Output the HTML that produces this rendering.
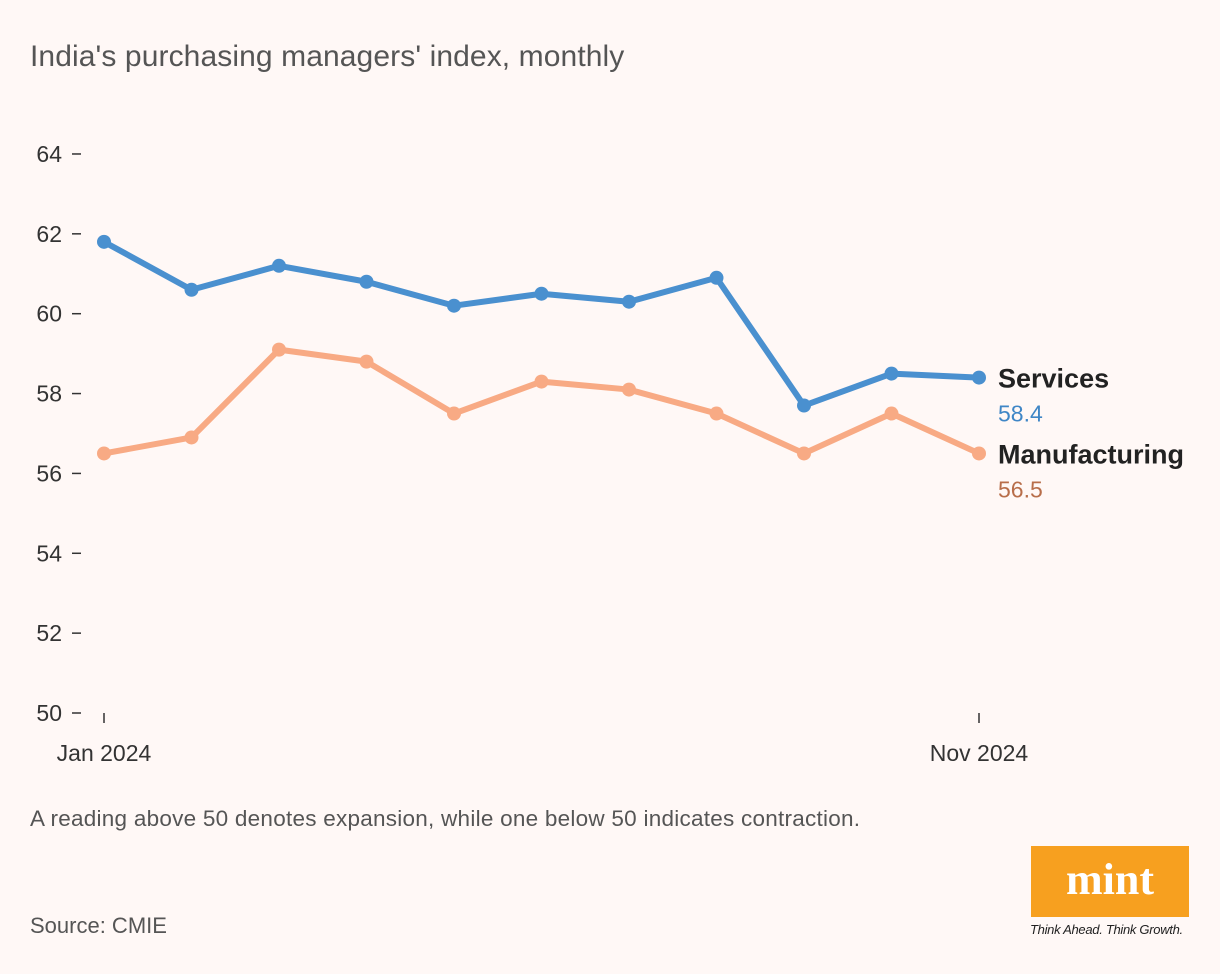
<!DOCTYPE html>
<html><head><meta charset="utf-8"><style>
html,body{margin:0;padding:0;background:#fff8f6;}
body{width:1220px;height:974px;position:relative;overflow:hidden;font-family:"Liberation Sans",sans-serif;}
.t{position:absolute;white-space:nowrap;}
</style></head><body>
<div class="t" style="left:30px;top:40px;font-size:30px;color:#555;letter-spacing:0.1px">India's purchasing managers' index, monthly</div>
<svg id="chart" width="1220" height="974" style="position:absolute;left:0;top:0"></svg>
<div class="t" style="left:30px;top:806px;font-size:22.5px;color:#555;letter-spacing:0.25px">A reading above 50 denotes expansion, while one below 50 indicates contraction.</div>
<div class="t" style="left:30px;top:913px;font-size:22px;color:#555">Source: CMIE</div>
<div style="position:absolute;left:1031px;top:846px;width:158px;height:71px;background:#f7a01f;color:#fff;font-family:'Liberation Serif',serif;font-weight:bold;font-size:44px;text-align:center;line-height:68px">mint</div>
<div class="t" style="left:1030px;top:922px;font-size:13px;font-style:italic;color:#222;letter-spacing:-0.3px">Think Ahead. Think Growth.</div>
<script>
const months=["Jan 2024","Feb 2024","Mar 2024","Apr 2024","May 2024","Jun 2024","Jul 2024","Aug 2024","Sep 2024","Oct 2024","Nov 2024"];
const services=[61.8,60.6,61.2,60.8,60.2,60.5,60.3,60.9,57.7,58.5,58.4];
const manufacturing=[56.5,56.9,59.1,58.8,57.5,58.3,58.1,57.5,56.5,57.5,56.5];
const yTicks=[50,52,54,56,58,60,62,64];
const ns="http://www.w3.org/2000/svg";
const svg=document.getElementById('chart');
const y=v=>713-(v-50)*39.93;
const x=i=>104+i*(875/(months.length-1));
function mk(t,a){const e=document.createElementNS(ns,t);for(const k in a)e.setAttribute(k,a[k]);svg.appendChild(e);return e;}
yTicks.forEach(v=>{
 const l=mk('line',{x1:72,x2:81,y1:y(v),y2:y(v),stroke:'#333','stroke-width':1.5});
 
 
 const t=mk('text',{x:62,y:y(v)+8,'text-anchor':'end','font-size':23,fill:'#333','font-family':'Liberation Sans, sans-serif'});
 t.textContent=v;
 
 
});
[0,months.length-1].forEach(i=>{
 const l=mk('line',{x1:x(i),x2:x(i),y1:713,y2:723,stroke:'#333','stroke-width':1.5});
 
 
 const t=mk('text',{x:x(i),y:761,'text-anchor':'middle','font-size':23,fill:'#333','font-family':'Liberation Sans, sans-serif'});
 t.textContent=months[i];
 
 
});
function series(vals,color,name,labColor){
 const p=mk('polyline',{points:vals.map((v,i)=>x(i)+','+y(v)).join(' '),fill:'none',stroke:color,'stroke-width':6,'stroke-linejoin':'round'});
 
 
 vals.forEach((v,i)=>{
  const c=mk('circle',{cx:x(i),cy:y(v),r:7,fill:color});
  
  
 });
 const last=vals[vals.length-1], ly=y(last);
 const t=mk('text',{x:998,y:ly+10,'font-size':27,'font-weight':'bold',fill:'#222','font-family':'Liberation Sans, sans-serif'});
 t.textContent=name==='services'?'Services':'Manufacturing';
 
 
 const t2=mk('text',{x:998,y:ly+44,'font-size':23,fill:labColor,'font-family':'Liberation Sans, sans-serif'});
 t2.textContent=last.toFixed(1);
 
 
}
series(services,'#4a90cf','services','#3f86c6');
series(manufacturing,'#f8aa84','manufacturing','#b86e4a');
</script>
</body></html>
